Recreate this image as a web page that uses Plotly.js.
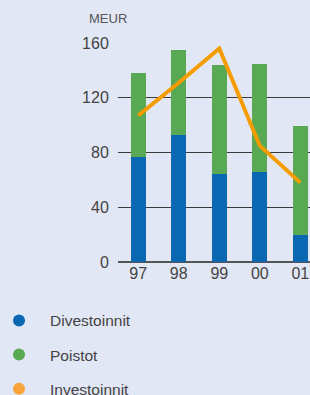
<!DOCTYPE html>
<html>
<head>
<meta charset="utf-8">
<script src="https://cdn.plot.ly/plotly-3.0.1.min.js"></script>
<style>html,body{margin:0;padding:0;background:#e2e7f5;}#chart{width:310px;height:395px;}</style>
</head>
<body>
<div id="chart"></div>
<script>
const years = ['97', '98', '99', '00', '01'];
const divestoinnit = [77, 93, 64, 66, 20];
const poistot = [61, 62, 80, 79, 79];
const investoinnit = [107, 131, 156, 85, 58];
const seriesNames = ['Divestoinnit', 'Poistot', 'Investoinnit'];
const colors = ['#0a67b1', '#58a854', '#f59c00'];
const legendColors = ['#0a67b1', '#58a854', '#f9a53a'];
const yTicks = [0, 40, 80, 120, 160];

const traces = [
  {type: 'bar', x: years, y: divestoinnit, marker: {color: colors[0]}, width: 0.37, showlegend: false, hoverinfo: 'skip'},
  {type: 'bar', x: years, y: poistot, marker: {color: colors[1]}, width: 0.37, showlegend: false, hoverinfo: 'skip'},
  {type: 'scatter', mode: 'lines', x: years, y: investoinnit, line: {color: colors[2], width: 4}, showlegend: false, hoverinfo: 'skip'}
];
seriesNames.forEach((n, i) => {
  traces.push({type: 'scatter', mode: 'markers', x: [null], y: [null], name: n,
    legendgroup: 'g' + i, marker: {color: legendColors[i], size: 12, symbol: 'circle'}});
});

const layout = {
  width: 310, height: 395,
  paper_bgcolor: '#e2e7f5', plot_bgcolor: '#e2e7f5',
  margin: {l: 118, r: 0, t: 43, b: 133, autoexpand: false},
  barmode: 'stack',
  font: {family: 'Liberation Sans, Arial, sans-serif', color: '#444', size: 15},
  xaxis: {type: 'category', range: [-0.5, 4.24], showgrid: false, zeroline: false, automargin: false,
    showline: false, ticks: '', tickfont: {size: 16, color: '#444'}, fixedrange: true},
  yaxis: {range: [0, 160], tickvals: yTicks, ticktext: yTicks.map(String), showgrid: true, automargin: false,
    gridcolor: '#3a3a3a', gridwidth: 1.2, zeroline: true, zerolinecolor: '#555', zerolinewidth: 1.2,
    ticks: 'outside', ticklen: 5, tickcolor: 'rgba(0,0,0,0)', tickfont: {size: 16, color: '#444'}, fixedrange: true},
  showlegend: true,
  legend: {xref: 'paper', yref: 'paper', x: -0.677, y: -0.191, xanchor: 'left', yanchor: 'top',
    bgcolor: 'rgba(0,0,0,0)', font: {size: 15.5, color: '#444'}, tracegroupgap: 11, itemwidth: 52},
  annotations: [{text: 'MEUR', xref: 'paper', yref: 'paper', x: -0.16, y: 1.114,
    xanchor: 'left', yanchor: 'middle', showarrow: false, font: {size: 13, color: '#555'}}]
};
Plotly.newPlot('chart', traces, layout, {displayModeBar: false, staticPlot: true});
</script>
</body>
</html>
